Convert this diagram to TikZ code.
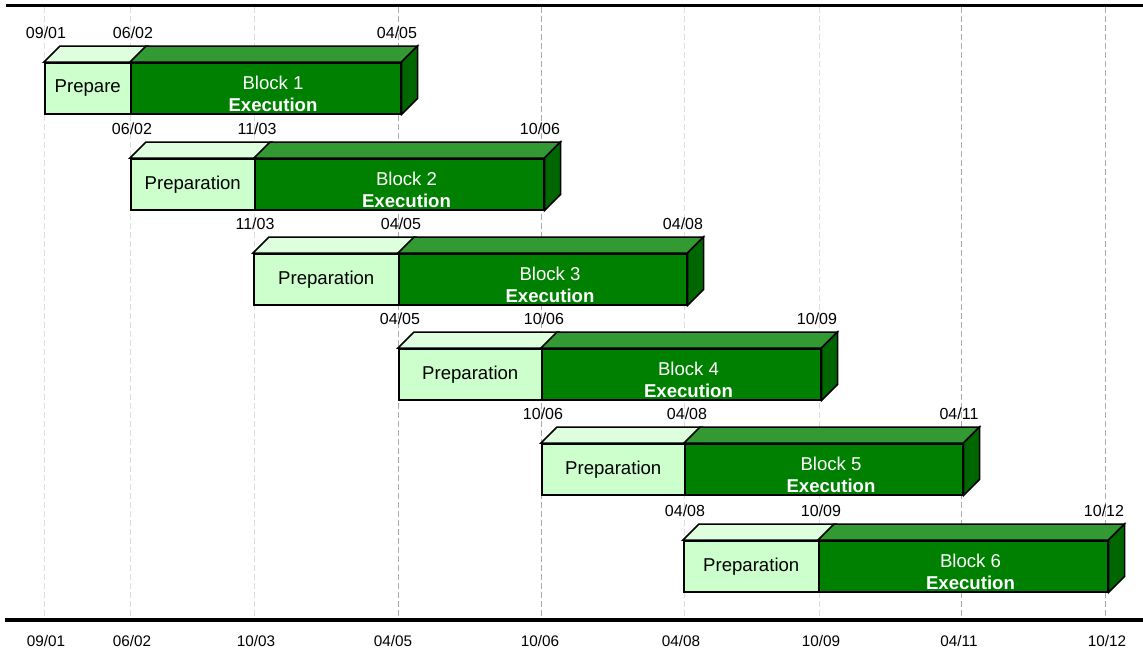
\documentclass[tikz,border=0pt]{standalone}
\usepackage{fontspec}
\setmainfont{Liberation Sans}
\definecolor{prepfront}{HTML}{CCFFCC}
\definecolor{preptop}{HTML}{DDFFDD}
\definecolor{execfront}{HTML}{008000}
\definecolor{exectop}{HTML}{339933}
\definecolor{execside}{HTML}{006600}
\definecolor{gridlight}{HTML}{DDDDDD}
\definecolor{griddark}{HTML}{AAAAAA}

\tikzset{
  face/.style={draw=black, line width=1.5pt, line join=miter},
  prepbox/.style={face, fill=prepfront, anchor=north west, inner sep=0pt,
    minimum height=51pt, text=black, font=\fontsize{18.6}{22}\selectfont},
  execbox/.style={face, fill=execfront, anchor=north west, inner sep=0pt,
    minimum height=51pt},
  blocktext/.style={text=white, align=center, inner sep=0pt,
    font=\fontsize{18.6}{22}\selectfont},
  datelabel/.style={inner sep=0pt, font=\fontsize{16}{18}\selectfont},
  axislabel/.style={inner sep=0pt, font=\fontsize{15.3}{18}\selectfont},
  gridline/.style={line width=0.9pt, dash pattern=on 6pt off 3pt},
}

% One block: #1 number, #2 left edge, #3 split, #4 right edge, #5 top of front face,
% #6 preparation text, #7 #8 #9 dates over the left edge, split and right edge
\newcommand\ganttblock[9]{%
  \node[prepbox, minimum width={(#3-#2)*1pt}] (prep#1) at (#2,#5) {#6};
  \node[execbox, minimum width={(#4-#3)*1pt}] (exec#1) at (#3,#5) {};
  \draw[face, fill=preptop] (prep#1.north west) -- ++(16,-16)
    -- ([shift={(16,-16)}]prep#1.north east) -- (prep#1.north east) -- cycle;
  \draw[face, fill=exectop] (exec#1.north west) -- ++(16,-16)
    -- ([shift={(16,-16)}]exec#1.north east) -- (exec#1.north east) -- cycle;
  \draw[face, fill=execside] (exec#1.north east) -- ++(16,-16)
    -- ([shift={(16,-16)}]exec#1.south east) -- (exec#1.south east) -- cycle;
  \node[blocktext] (txt#1) at ({(#3+#4+16)/2},#5+32) {Block #1\\\textbf{Execution}};
  \node[datelabel] (dl#1) at (#2+2,#5-29) {#7};
  \node[datelabel] (dm#1) at (#3+3,#5-29) {#8};
  \node[datelabel] (dr#1) at (#4-3,#5-29) {#9};
}

\begin{document}
\begin{tikzpicture}[x=1pt,y=-1pt]
\useasboundingbox (0,0) rectangle (1143,656);

% vertical date grid
\foreach \gx/\gc [count=\i] in {44/gridlight,130/gridlight,254/gridlight,398/griddark,
    541/griddark,684/gridlight,819/gridlight,961/griddark,1105/griddark}{
  \coordinate (gtop\i) at (\gx,7);
  \coordinate (gbot\i) at (\gx,618);
  \draw[gridline, draw=\gc] (gtop\i) -- (gbot\i);
}

% top and bottom rules
\coordinate (topL) at (6,5.5);
\coordinate (topR) at (1143,5.5);
\coordinate (botL) at (5,620);
\coordinate (botR) at (1143,620);
\draw[line width=3pt] (topL) -- (topR);
\draw[line width=4pt] (botL) -- (botR);

% blocks
\ganttblock{1}{44}{130}{400}{62}{Prepare}{09/01}{06/02}{04/05}
\ganttblock{2}{130}{254}{543}{158}{Preparation}{06/02}{11/03}{10/06}
\ganttblock{3}{253}{398}{686}{253}{Preparation}{11/03}{04/05}{04/08}
\ganttblock{4}{398}{541}{820}{348}{Preparation}{04/05}{10/06}{10/09}
\ganttblock{5}{541}{684}{962}{443}{Preparation}{10/06}{04/08}{04/11}
\ganttblock{6}{683}{818}{1107}{540}{Preparation}{04/08}{10/09}{10/12}

% axis dates
\foreach \ax/\at [count=\i] in {46/09\slash01,132/06\slash02,256/10\slash03,393/04\slash05,
    540/10\slash06,681/04\slash08,821/10\slash09,959/04\slash11,1107/10\slash12}{
  \node[axislabel] (ax\i) at (\ax,641) {\at};
}
\end{tikzpicture}
\end{document}
